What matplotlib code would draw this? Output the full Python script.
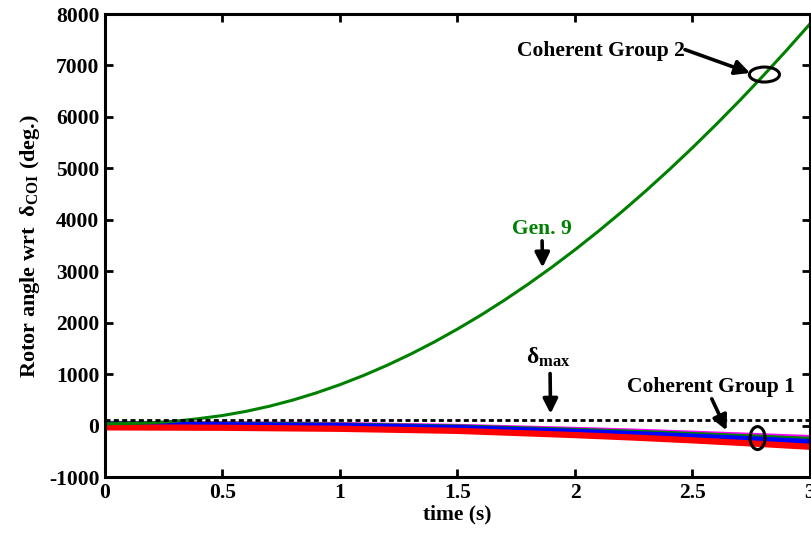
import matplotlib
matplotlib.use("Agg")
import matplotlib.pyplot as plt
from matplotlib.patches import Ellipse

# ---- data ----
t = [0.0, 0.1, 0.2, 0.3, 0.4, 0.5, 0.6, 0.7, 0.8, 0.9, 1.0,
     1.1, 1.2, 1.3, 1.4, 1.5, 1.6, 1.7, 1.8, 1.9, 2.0,
     2.1, 2.2, 2.3, 2.4, 2.5, 2.6, 2.7, 2.8, 2.9, 3.0]
gen9 = [40, 45, 60, 90, 140, 200, 281, 381, 501, 641, 800,
        978, 1175, 1391, 1626, 1880, 2151, 2442, 2750, 3076, 3420,
        3782, 4161, 4558, 4972, 5403, 5851, 6315, 6797, 7294, 7808]

t_grp = [0.0, 0.5, 1.0, 1.5, 2.0, 2.25, 2.5, 2.75, 3.0]
grp_magenta = [50, 44, 28, -8, -66, -100, -140, -182, -225]
grp_green = [42, 35, 17, -20, -85, -122, -165, -212, -260]
grp_blue = [20, 12, -6, -46, -118, -160, -210, -262, -316]
grp_red = [-30, -38, -58, -98, -180, -228, -282, -342, -407]

delta_max = 120

x_ticks = [0, 0.5, 1, 1.5, 2, 2.5, 3]
x_tick_labels = ["0", "0.5", "1", "1.5", "2", "2.5", "3"]
y_ticks = [-1000, 0, 1000, 2000, 3000, 4000, 5000, 6000, 7000, 8000]
y_tick_labels = ["-1000", "0", "1000", "2000", "3000", "4000", "5000", "6000", "7000", "8000"]

plt.rcParams["font.family"] = ["Liberation Serif", "DejaVu Serif"]
plt.rcParams["font.weight"] = "bold"
plt.rcParams["mathtext.fontset"] = "custom"
plt.rcParams["mathtext.rm"] = "Liberation Serif"
plt.rcParams["mathtext.it"] = "Liberation Serif:italic"
plt.rcParams["mathtext.bf"] = "Liberation Serif:bold"

FS = 15.5

fig = plt.figure(figsize=(8.12, 5.36), dpi=100)
ax = fig.add_axes([105 / 812, 1 - 477.3 / 536, (810 - 105) / 812, (477.3 - 14) / 536])

ax.plot(t_grp, grp_magenta, color="#ff00ff", lw=3.5, solid_capstyle="butt")
ax.plot(t_grp, grp_green, color="#008000", lw=3.5, solid_capstyle="butt")
ax.plot(t_grp, grp_blue, color="#0000ff", lw=4.5, solid_capstyle="butt")
ax.plot(t_grp, grp_red, color="#ff0000", lw=4.5, solid_capstyle="butt")
ax.plot(t, gen9, color="#008000", lw=2.2)
ax.axhline(delta_max, color="black", lw=2.0, linestyle=(0, (1.8, 1.2)))

ax.set_xlim(0, 3)
ax.set_ylim(-1000, 8000)
ax.set_xticks(x_ticks)
ax.set_xticklabels(x_tick_labels)
ax.set_yticks(y_ticks)
ax.set_yticklabels(y_tick_labels)
ax.tick_params(direction="in", length=6, width=2, top=True, right=True,
               labelsize=FS, pad=4)
for lab in ax.get_xticklabels() + ax.get_yticklabels():
    lab.set_fontweight("bold")
for sp in ax.spines.values():
    sp.set_linewidth(2.2)

ax.set_xlabel("time (s)", fontsize=FS, fontweight="bold", labelpad=1)
ax.set_ylabel(r"Rotor angle wrt  $\mathrm{\delta}_{\mathbf{COI}}$ (deg.)",
              fontsize=16, fontweight="bold", labelpad=5)

arrow = dict(arrowstyle="-|>", color="black", lw=2.6, mutation_scale=22,
             shrinkA=0, shrinkB=0)

# Coherent Group 2
ax.text(2.465, 7290, "Coherent Group 2", fontsize=FS, fontweight="bold",
        ha="right", va="center")
ax.annotate("", xy=(2.745, 6855), xytext=(2.468, 7308), arrowprops=arrow)
ax.add_patch(Ellipse((2.806, 6824), 0.128, 291, fill=False, lw=2.2,
                     edgecolor="black", zorder=5))

# Gen. 9
ax.text(1.858, 3820, "Gen. 9", fontsize=FS, fontweight="bold",
        color="#008000", ha="center", va="center")
ax.annotate("", xy=(1.862, 3076), xytext=(1.860, 3593), arrowprops=arrow)

# delta max
ax.text(1.885, 1326, r"$\mathrm{\delta}_{\mathbf{max}}$", fontsize=17,
        ha="center", va="center")
ax.annotate("", xy=(1.896, 235), xytext=(1.894, 1016), arrowprops=arrow)

# Coherent Group 1
ax.text(2.577, 750, "Coherent Group 1", fontsize=FS, fontweight="bold",
        ha="center", va="center")
ax.annotate("", xy=(2.645, -89), xytext=(2.582, 525), arrowprops=arrow)
ax.add_patch(Ellipse((2.777, -238), 0.064, 446, fill=False, lw=2.2,
                     edgecolor="black", zorder=5))

fig.savefig("out.png", dpi=100)
